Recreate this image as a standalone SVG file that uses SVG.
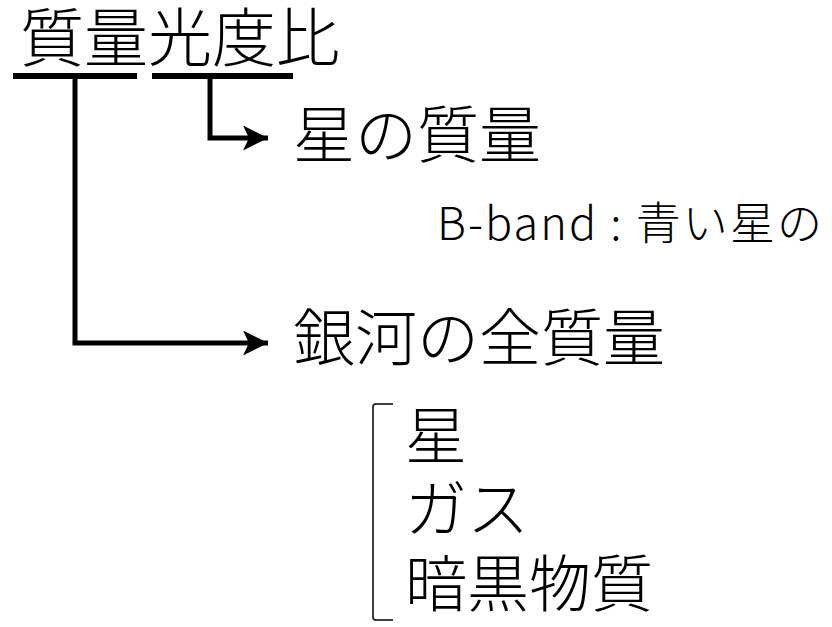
<svg xmlns="http://www.w3.org/2000/svg" width="832" height="627" viewBox="0 0 832 627">
<style>
.t{font-family:"Noto Sans CJK JP","Noto Sans",sans-serif;fill:#000;font-weight:300}
.big{font-size:62px}
.small{font-size:45px}
.ln{fill:none;stroke:#000;stroke-width:5}
</style>
<defs>
<marker id="ah" markerWidth="26" markerHeight="26" refX="25" refY="12.5" markerUnits="userSpaceOnUse" orient="auto">
<path d="M0,0 L25,12.5 L0,25 L6,12.5 Z" fill="#000"/>
</marker>
</defs>
<rect width="832" height="627" fill="#fff"/>
<g id="title"><text class="t" x="20" y="61" font-size="64">質量光度比</text></g>
<g id="connectors">
<rect x="13" y="73" width="124" height="6" fill="#000"/>
<rect x="152" y="73" width="141" height="6" fill="#000"/>
<path class="ln" d="M75,76 V343 H268" marker-end="url(#ah)"/>
<path class="ln" d="M210,76 V138 H268" marker-end="url(#ah)"/>
</g>
<g id="star-mass"><text class="t big" x="293" y="158">星の質量</text></g>
<g id="bband"><text class="t small" x="437" y="240" textLength="385" lengthAdjust="spacing">B-band : 青い星の</text></g>
<g id="galaxy-mass"><text class="t big" x="293" y="361">銀河の全質量</text></g>
<g id="components">
<path d="M393,404 H376 Q373,404 373,407 V617 Q373,620 376,620 H393" fill="none" stroke="#000" stroke-width="1.5"/>
<text class="t big" x="405" y="459">星</text>
<text class="t big" x="405" y="532">ガス</text>
<text class="t big" x="405" y="607">暗黒物質</text>
</g>
</svg>
